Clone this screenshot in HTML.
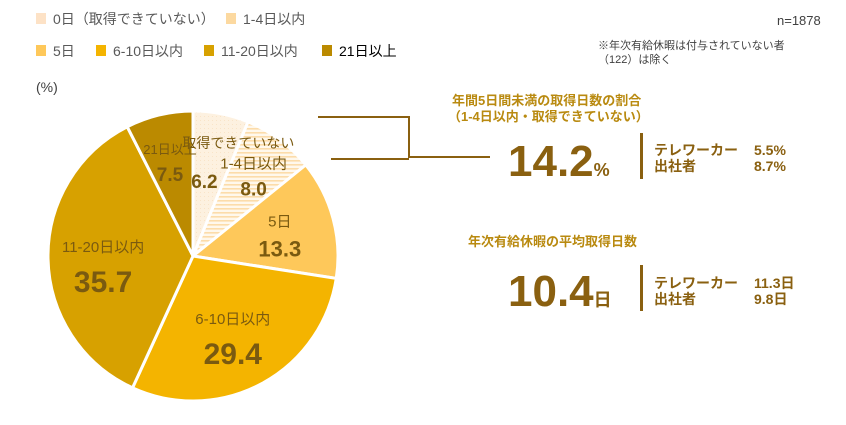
<!DOCTYPE html>
<html><head><meta charset="utf-8"><style>
body{margin:0;width:846px;height:420px;background:#fff;overflow:hidden;font-family:"Liberation Sans","Noto Sans CJK JP",sans-serif;}
svg text{font-family:"Liberation Sans","Noto Sans CJK JP",sans-serif;}
</style></head><body>
<svg width="846" height="420">
<defs>
<pattern id="hatch" width="6" height="4" patternUnits="userSpaceOnUse"><rect width="6" height="4" fill="#fff8ec"/><rect y="0" width="6" height="1.6" fill="#fcdcaa"/></pattern>
<pattern id="dots" width="4" height="4" patternUnits="userSpaceOnUse"><rect width="4" height="4" fill="#fdf1e0"/><rect width="1" height="1" fill="#f9e4c8"/></pattern>
</defs>
<g id="legend" font-size="14" fill="#595959"></g>
<text x="36" y="92" font-size="14" fill="#404040">(%)</text>
<g id="pie"></g>
<g id="labels"></g>
<g stroke="#8a6010" stroke-width="2" fill="none">
<polyline points="318,117 409,117 409,157 490,157"/>
<line x1="331" y1="159" x2="409" y2="159"/>
</g>
<text x="777" y="25" font-size="13" fill="#404040">n=1878</text>
<text x="598" y="49" font-size="11" fill="#404040">※年次有給休暇は付与されていない者</text>
<text x="598" y="63" font-size="11" fill="#404040">（122）は除く</text>
<g fill="#b98a10" font-weight="bold" font-size="13">
<text x="452" y="105">年間5日間未満の取得日数の割合</text>
<text x="448" y="121">（1-4日以内・取得できていない）</text>
<text x="468" y="246">年次有給休暇の平均取得日数</text>
</g>
<g fill="#8a6010" font-weight="bold">
<text x="508" y="176" font-size="44">14.2<tspan font-size="18">%</tspan></text>
<text x="508" y="306" font-size="44">10.4<tspan font-size="18">日</tspan></text>
<rect x="640" y="133" width="3" height="46"/>
<rect x="640" y="265" width="3" height="46"/>
<g font-size="14">
<text x="654" y="155">テレワーカー</text><text x="754" y="155">5.5%</text>
<text x="654" y="171">出社者</text><text x="754" y="171">8.7%</text>
<text x="654" y="288">テレワーカー</text><text x="754" y="288">11.3日</text>
<text x="654" y="304">出社者</text><text x="754" y="304">9.8日</text>
</g></g>
</svg>
<script>
const categories=["取得できていない","1-4日以内","5日","6-10日以内","11-20日以内","21日以上"];
const legendLabels=["0日（取得できていない）","1-4日以内","5日","6-10日以内","11-20日以内","21日以上"];
const values=[6.2,8.0,13.3,29.4,35.7,7.5];
const fills=["url(#dots)","url(#hatch)","#fec85a","#f4b400","#d7a100","#bb8a00"];
const legendColors=["#fde2c6","#fcd9a0","#fec85a","#f4b400","#d7a100","#bb8a00"];
const NS="http://www.w3.org/2000/svg";
function mk(t,a,p){const e=document.createElementNS(NS,t);for(const k in a)e.setAttribute(k,a[k]);p.appendChild(e);return e;}
const cx=193,cy=256,r=145;
const total=values.reduce((a,b)=>a+b,0);
function pt(ang,rad){return [cx+rad*Math.sin(ang),cy-rad*Math.cos(ang)];}
const pie=document.getElementById('pie'),lab=document.getElementById('labels');
let a0=0;
const labelPos=[[0.55,0.62],[0.7,0.55],[0.62,0.58],[0.58,0.5],[0.62,0.55],[0.68,0.5]];
values.forEach((v,i)=>{
 const a1=a0+v/total*2*Math.PI;
 const [x0,y0]=pt(a0,r),[x1,y1]=pt(a1,r);
 const p=mk('path',{d:`M${cx},${cy}L${x0},${y0}A${r},${r} 0 ${a1-a0>Math.PI?1:0} 1 ${x1},${y1}Z`,fill:fills[i],stroke:'#fff','stroke-width':3},pie);
 
 
 const mid=(a0+a1)/2;
 const [lx,ly]=pt(mid,r*labelPos[i][0]);
 const big=v>20?30:(v>10?22:19);
 const small=i===0?14:(i===5?13:15);
 const t1=mk('text',{x:i===0?lx+30:lx,y:i===0?ly-30:ly-6,'font-size':small,fill:'#7a5a10','text-anchor':'middle'},lab);
 t1.textContent=categories[i];
 
 
 const t2=mk('text',{x:i===0?lx-4:lx,y:i===0?ly+10:ly+big+(v>20?4:2),'font-size':big,'font-weight':'bold',fill:'#7a5a10','text-anchor':'middle'},lab);
 t2.textContent=values[i].toFixed(1);
 
 
 a0=a1;
});
const lg=document.getElementById('legend');
const lpos=[[36,24],[226,24],[36,56],[96,56],[204,56],[322,56]];
legendLabels.forEach((s,i)=>{
 const g=mk('g',{},lg);
 
 
 mk('rect',{x:lpos[i][0],y:lpos[i][1]-11,width:10,height:11,fill:legendColors[i]},g);
 const t=mk('text',{x:lpos[i][0]+17,y:lpos[i][1],fill:i===5?'#000':'#595959'},g);
 t.textContent=s;
});
</script>
</body></html>
